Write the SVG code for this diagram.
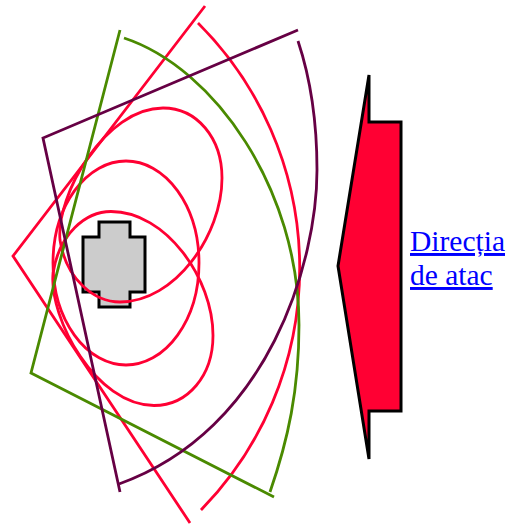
<svg xmlns="http://www.w3.org/2000/svg" width="512" height="525" viewBox="0 0 512 525">
<style>
.l{fill:none;stroke-width:2.8;stroke-linejoin:miter}
.r{stroke:#ff0033}.g{stroke:#4a8a00}.p{stroke:#660044}
.o{stroke:#000;stroke-width:3;stroke-linejoin:miter}
text{font-family:"Liberation Serif","Times New Roman",serif;font-size:29.5px;fill:#0000ff;text-decoration:underline}
</style>
<rect width="512" height="525" fill="#fff"/>
<g id="building"><path class="o" fill="#cccccc" d="M99,222H130V237H145V292H130V307H99V292H83V237H99Z"/></g>
<g id="connectors">
<path class="l r" d="M163,108 C197,108 222,138 222,178 C222,235 175,302 120,302 C95,302 66,280 60,240 C56,195 105,108 163,108Z"/>
<ellipse class="l r" cx="126" cy="263" rx="73" ry="102"/>
<path class="l r" d="M154,405.500 C188,405.500 213,375.500 213,335.500 C213,278.500 166,211.500 111,211.500 C86,211.500 59,233.500 53,273.500 C49,318.500 96,405.500 154,405.500Z"/>
<path class="l r" d="M205,6 L13,256 L190,523"/>
<path class="l r" d="M198,23 A346,346 0 0 1 201,510"/>
<path class="l g" d="M120,30 L31,373 L274,497"/>
<path class="l g" d="M124,38 C215,68 299,190 299,325 C299,390 288,440 270,492"/>
<path class="l p" d="M298,30 L43,138 L120,492"/>
<path class="l p" d="M298,41 C311,80 317,125 317,170 C317,260 270,430 119,484"/>
</g>
<g id="attack-arrow"><path class="o" fill="#ff0033" d="M369,75V122H401V411H369V459L338,266Z"/></g>
<g id="label"><text x="410" y="251">Direcția</text><text x="410" y="285">de atac</text></g>
</svg>
